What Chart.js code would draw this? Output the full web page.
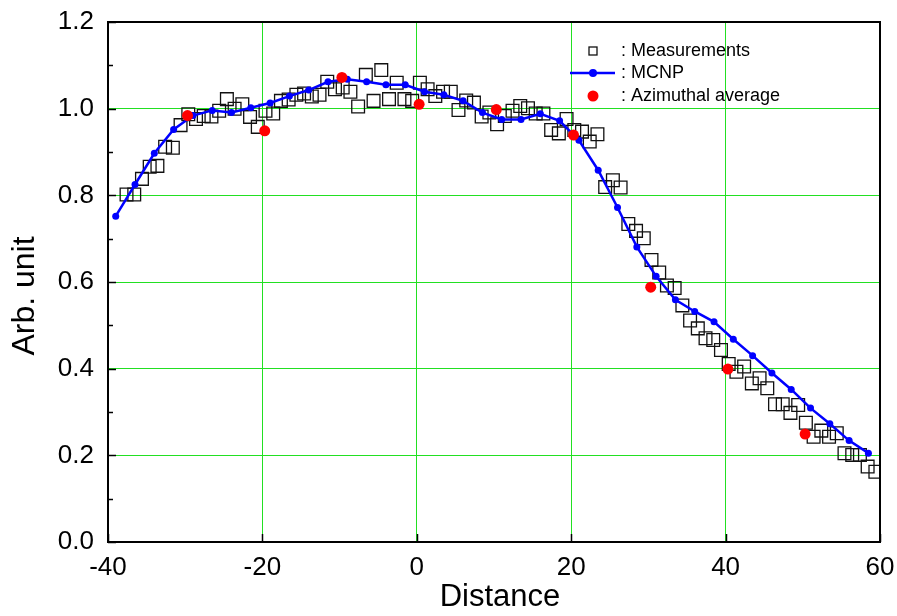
<!DOCTYPE html>
<html>
<head>
<meta charset="utf-8">
<script src="https://cdn.jsdelivr.net/npm/chart.js@4/dist/chart.umd.min.js"></script>
<style>
  html, body { margin: 0; padding: 0; background: #fff; }
  #wrap { width: 897px; height: 616px; }
</style>
</head>
<body>
<div id="wrap"><canvas id="myChart" width="897" height="616"></canvas></div>
<script>
// measured profile (open squares)
const measX = [
  -37.6, -36.6, -35.6, -34.6, -33.6, -32.6, -31.6, -30.6, -29.6, -28.6,
  -27.6, -26.6, -25.6, -24.6, -23.6, -22.6, -21.6, -20.6, -19.6, -18.6,
  -17.6, -16.6, -15.6, -14.6, -13.6, -12.6, -11.6, -10.6, -9.6, -8.6,
  -7.6, -6.6, -5.6, -4.6, -3.6, -2.6, -1.6, -0.6, 0.4, 1.4,
  2.4, 3.4, 4.4, 5.4, 6.4, 7.4, 8.4, 9.4, 10.4, 11.4,
  12.4, 13.4, 14.4, 15.4, 16.4, 17.4, 18.4, 19.4, 20.4, 21.4,
  22.4, 23.4, 24.4, 25.4, 26.4, 27.4, 28.4, 29.4, 30.4, 31.4,
  32.4, 33.4, 34.4, 35.4, 36.4, 37.4, 38.4, 39.4, 40.4, 41.4,
  42.4, 43.4, 44.4, 45.4, 46.4, 47.4, 48.4, 49.4, 50.4, 51.4,
  52.4, 53.4, 54.4, 55.4, 56.4, 57.4, 58.4, 59.4
];
const measY = [
  0.802, 0.802, 0.838, 0.866, 0.868, 0.912, 0.910, 0.962, 0.987, 0.976,
  0.983, 0.982, 0.995, 1.022, 1.000, 1.010, 0.981, 0.958, 0.995, 0.989,
  1.018, 1.021, 1.032, 1.035, 1.028, 1.032, 1.062, 1.045, 1.049, 1.039,
  1.005, 1.078, 1.018, 1.089, 1.022, 1.060, 1.022, 1.018, 1.060, 1.045,
  1.029, 1.039, 1.039, 0.997, 1.019, 1.014, 0.982, 0.991, 0.964, 0.983,
  0.995, 1.006, 1.001, 0.989, 0.989, 0.951, 0.943, 0.976, 0.951, 0.947,
  0.924, 0.941, 0.819, 0.835, 0.818, 0.734, 0.718, 0.701, 0.651, 0.622,
  0.592, 0.586, 0.546, 0.511, 0.493, 0.470, 0.466, 0.443, 0.411, 0.393,
  0.405, 0.366, 0.378, 0.355, 0.318, 0.318, 0.298, 0.316, 0.275, 0.243,
  0.257, 0.243, 0.251, 0.205, 0.201, 0.201, 0.174, 0.162
];

// MCNP calculation
const mcnpX = [
  -39, -36.5, -34, -31.5, -29, -26.5, -24, -21.5, -19, -16.5,
  -14, -11.5, -9, -6.5, -4, -1.5, 1, 3.5, 6, 8.5,
  11, 13.5, 16, 18.5, 21, 23.5, 26, 28.5, 31, 33.5,
  36, 38.5, 41, 43.5, 46, 48.5, 51, 53.5, 56, 58.5
];
const mcnpY = [
  0.752, 0.825, 0.897, 0.952, 0.984, 0.996, 0.991, 1.002, 1.013, 1.029,
  1.043, 1.062, 1.068, 1.062, 1.055, 1.055, 1.039, 1.032, 1.018, 0.991,
  0.975, 0.975, 0.988, 0.972, 0.927, 0.858, 0.772, 0.681, 0.613, 0.559,
  0.532, 0.508, 0.468, 0.430, 0.390, 0.352, 0.309, 0.273, 0.234, 0.205
];

// azimuthal average
const aziX = [-29.7, -19.7, -9.7, 0.3, 10.3, 20.3, 30.3, 40.3, 50.3];
const aziY = [0.984, 0.949, 1.072, 1.010, 0.998, 0.939, 0.588, 0.399, 0.249];

const xTicks = [-40, -20, 0, 20, 40, 60];
const yTicks = [0, 0.2, 0.4, 0.6, 0.8, 1.0, 1.2];

const xTitle = 'Distance';
const yTitle = 'Arb. unit';
const legendNames = [': Measurements', ': MCNP', ': Azimuthal average'];

const FONT = "'Liberation Sans', Arial, sans-serif";

function pts(xs, ys) {
    return xs.map((x, i) => ({ x: x, y: ys[i] }));
}

// box around the plot and inward ticks
const frameTicks = {
    id: 'frameTicks',
    afterDraw(chart) {
        const { ctx, chartArea: a, scales } = chart;
        ctx.save();
        ctx.strokeStyle = '#000';
        ctx.lineWidth = 1.5;
        for (let i = 0; i <= 12; i++) {
            const py = Math.round(scales.y.getPixelForValue(i / 10)) + 0.5;
            const len = i % 2 === 0 ? 8 : 5;
            ctx.beginPath();
            ctx.moveTo(a.left, py);
            ctx.lineTo(a.left + len, py);
            ctx.stroke();
        }
        xTicks.forEach((v) => {
            const px = Math.round(scales.x.getPixelForValue(v)) + 0.5;
            ctx.beginPath();
            ctx.moveTo(px, a.bottom);
            ctx.lineTo(px, a.bottom - 8);
            ctx.stroke();
        });
        ctx.lineWidth = 2;
        ctx.strokeRect(a.left, a.top, a.right - a.left, a.bottom - a.top);
        ctx.restore();
    }
};

// axis titles
const axisTitles = {
    id: 'axisTitles',
    afterDraw(chart) {
        const ctx = chart.ctx;
        ctx.save();
        ctx.fillStyle = '#000';
        ctx.textAlign = 'center';
        ctx.textBaseline = 'middle';
        ctx.font = '31px ' + FONT;
        ctx.fillText(xTitle, 500, 597);
        ctx.translate(25, 296);
        ctx.rotate(-Math.PI / 2);
        ctx.font = '32px ' + FONT;
        ctx.fillText(yTitle, 0, 0);
        ctx.restore();
    }
};

// legend in the upper right corner
const cornerLegend = {
    id: 'cornerLegend',
    afterDraw(chart) {
        const ctx = chart.ctx;
        const ds = chart.data.datasets;
        const symX = 593;
        const textX = 621;
        const rows = [51, 73, 96];
        ctx.save();
        ctx.font = '18px ' + FONT;
        ctx.fillStyle = '#000';
        ctx.textBaseline = 'middle';
        rows.forEach((ry, i) => ctx.fillText(legendNames[i], textX, ry));

        ctx.strokeStyle = ds[0].borderColor;
        ctx.lineWidth = 1.3;
        ctx.strokeRect(symX - 4, rows[0] - 4, 8, 8);

        ctx.strokeStyle = ds[1].borderColor;
        ctx.lineWidth = ds[1].borderWidth;
        ctx.beginPath();
        ctx.moveTo(570, rows[1]);
        ctx.lineTo(615, rows[1]);
        ctx.stroke();
        ctx.fillStyle = ds[1].pointBackgroundColor;
        ctx.beginPath();
        ctx.arc(symX, rows[1], 4, 0, Math.PI * 2);
        ctx.fill();

        ctx.fillStyle = ds[2].pointBackgroundColor;
        ctx.beginPath();
        ctx.arc(symX, rows[2], 5.5, 0, Math.PI * 2);
        ctx.fill();
        ctx.restore();
    }
};

const chart = new Chart(document.getElementById('myChart'), {
    type: 'scatter',
    data: {
        datasets: [
            {
                label: 'Measurements',
                data: pts(measX, measY),
                pointStyle: 'rect',
                pointRadius: 9,
                pointBorderWidth: 1.3,
                borderColor: '#111',
                pointBorderColor: '#111',
                pointBackgroundColor: 'rgba(0,0,0,0)',
                showLine: false,
                order: 3
            },
            {
                label: 'MCNP',
                data: pts(mcnpX, mcnpY),
                showLine: true,
                borderColor: '#0000ff',
                borderWidth: 2.5,
                pointRadius: 3.5,
                pointBorderWidth: 0,
                pointBackgroundColor: '#0000ff',
                order: 2
            },
            {
                label: 'Azimuthal average',
                data: pts(aziX, aziY),
                showLine: false,
                pointRadius: 5.5,
                pointBorderWidth: 0,
                pointBackgroundColor: '#ff0000',
                borderColor: '#ff0000',
                order: 1
            }
        ]
    },
    options: {
        responsive: false,
        animation: false,
        devicePixelRatio: 1,
        layout: { padding: { top: 22, right: 17, left: 0, bottom: 0 } },
        plugins: {
            legend: { display: false },
            tooltip: { enabled: false }
        },
        scales: {
            x: {
                type: 'linear',
                min: -40,
                max: 60,
                afterBuildTicks: (axis) => { axis.ticks = xTicks.map((v) => ({ value: v })); },
                afterFit: (axis) => {
                    axis.height = 74;
                    axis.paddingLeft = 0;
                    axis.paddingRight = 0;
                },
                border: { display: false },
                grid: {
                    drawTicks: false,
                    lineWidth: 1,
                    color: (c) => (c.tick && (c.tick.value === -40 || c.tick.value === 60)) ? 'rgba(0,0,0,0)' : '#22e022'
                },
                ticks: {
                    padding: 10,
                    color: '#000',
                    font: { family: FONT, size: 26 }
                }
            },
            y: {
                type: 'linear',
                min: 0,
                max: 1.2,
                afterBuildTicks: (axis) => { axis.ticks = yTicks.map((v) => ({ value: v })); },
                afterFit: (axis) => {
                    axis.width = 108;
                    axis.paddingTop = 0;
                    axis.paddingBottom = 0;
                },
                border: { display: false },
                grid: {
                    drawTicks: false,
                    lineWidth: 1,
                    color: (c) => (c.tick && (c.tick.value === 0 || c.tick.value === 1.2)) ? 'rgba(0,0,0,0)' : '#22e022'
                },
                ticks: {
                    padding: 14,
                    color: '#000',
                    font: { family: FONT, size: 26 },
                    callback: (v) => Number(v).toFixed(1)
                }
            }
        }
    },
    plugins: [frameTicks, axisTitles, cornerLegend]
});
</script>
</body>
</html>
